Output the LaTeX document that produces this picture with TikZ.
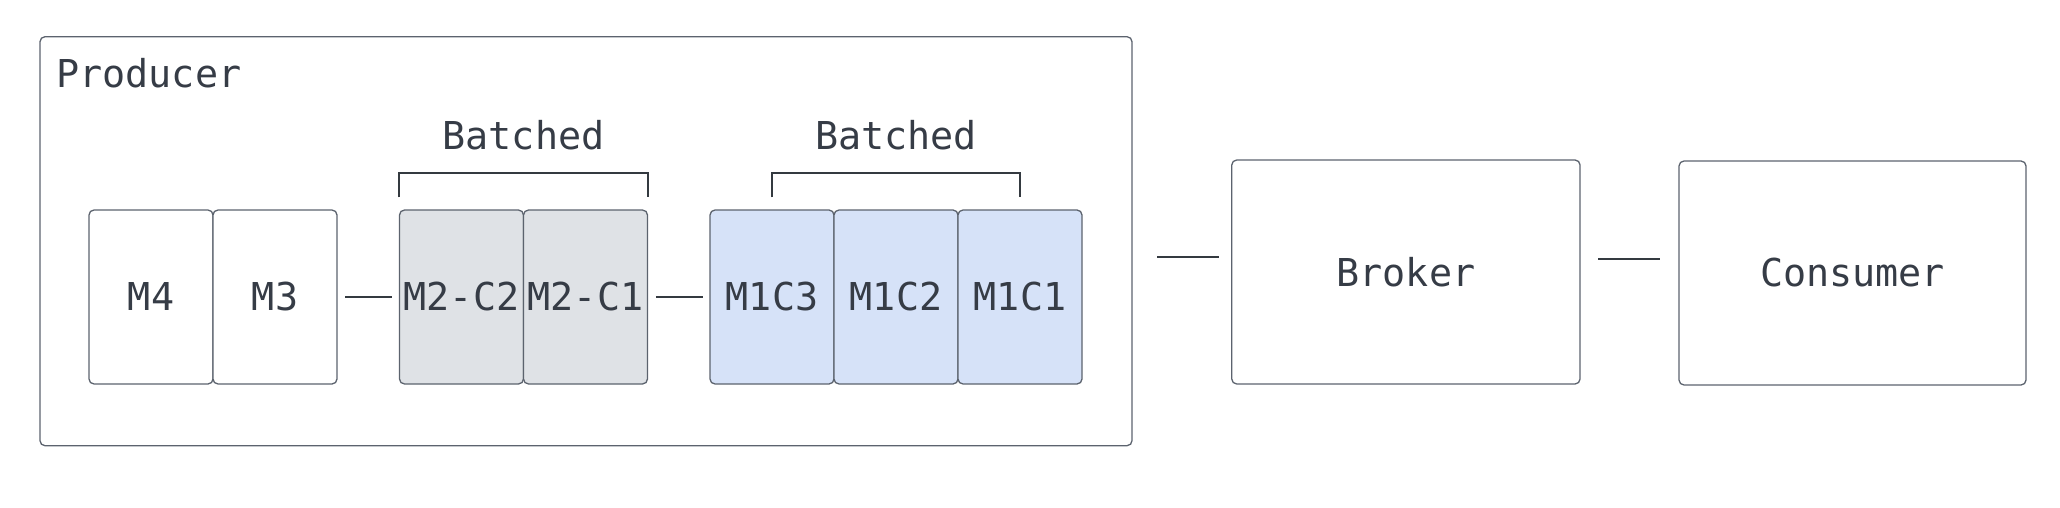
\documentclass[tikz,border=0pt]{standalone}
\usepackage{fontspec}
\setmainfont{DejaVu Sans Mono}
\usetikzlibrary{calc}
\definecolor{txt}{HTML}{363C46}
\definecolor{ln}{HTML}{343A40}
\definecolor{bd}{HTML}{5C636E}
\definecolor{grayfill}{HTML}{DFE2E6}
\definecolor{bluefill}{HTML}{D6E2F8}
\begin{document}
\begin{tikzpicture}[x=0.5pt,y=-0.5pt,
  every node/.style={font=\fontsize{19.2}{23}\selectfont, text=txt},
  box/.style={draw=bd, line width=0.65pt, rounded corners=2.5pt, inner sep=0pt},
  msg/.style={box, minimum width=62pt, minimum height=87pt},
  conn/.style={draw=ln, line width=1.1pt},
  brk/.style={draw=ln, line width=1pt}]
\useasboundingbox (0,0) rectangle (2060,508);
% producer container
\node[box, minimum width=546pt, minimum height=204.5pt] (prod) at (586,241.2) {};
\node[anchor=base west, inner sep=0pt] (prodlbl) at (56,88) {Producer};
% messages
\node[msg, fill=white] (m4) at (151,297) {M4};
\node[msg, fill=white] (m3) at (275,297) {M3};
\node[msg, fill=grayfill] (m2c2) at (461.5,297) {M2-C2};
\node[msg, fill=grayfill] (m2c1) at (585.5,297) {M2-C1};
\node[msg, fill=bluefill] (m1c3) at (772,297) {M1C3};
\node[msg, fill=bluefill] (m1c2) at (896,297) {M1C2};
\node[msg, fill=bluefill] (m1c1) at (1020,297) {M1C1};
% batched labels and brackets
\node[anchor=base, inner sep=0pt] (b1) at (523.5,149) {Batched};
\node[anchor=base, inner sep=0pt] (b2) at (896,149) {Batched};
\draw[brk] ([yshift=6pt]m2c2.north west) -- ([yshift=18.3pt]m2c2.north west) -- ([yshift=18.3pt]m2c1.north east) -- ([yshift=6pt]m2c1.north east);
\draw[brk] ([yshift=6pt]m1c3.north) -- ([yshift=18.3pt]m1c3.north) -- ([yshift=18.3pt]m1c1.north) -- ([yshift=6pt]m1c1.north);
% broker and consumer
\node[box, minimum width=174.15pt, minimum height=112pt] (broker) at (1405.9,272) {Broker};
\node[box, minimum width=173.5pt, minimum height=112pt] (consumer) at (1852.5,273) {Consumer};
% connectors
\draw[conn] ([xshift=3.8pt]m3.east) -- ([xshift=-3.4pt]m2c2.west);
\draw[conn] ([xshift=3.8pt]m2c1.east) -- ([xshift=-3.4pt]m1c3.west);
\coordinate (pa) at (1157,256.7);
\coordinate (pb) at (1219,256.7);
\draw[conn] (pa) -- (pb);
\coordinate (ca) at (1598,258.7);
\coordinate (cb) at (1660,258.7);
\draw[conn] (ca) -- (cb);
\end{tikzpicture}
\end{document}
